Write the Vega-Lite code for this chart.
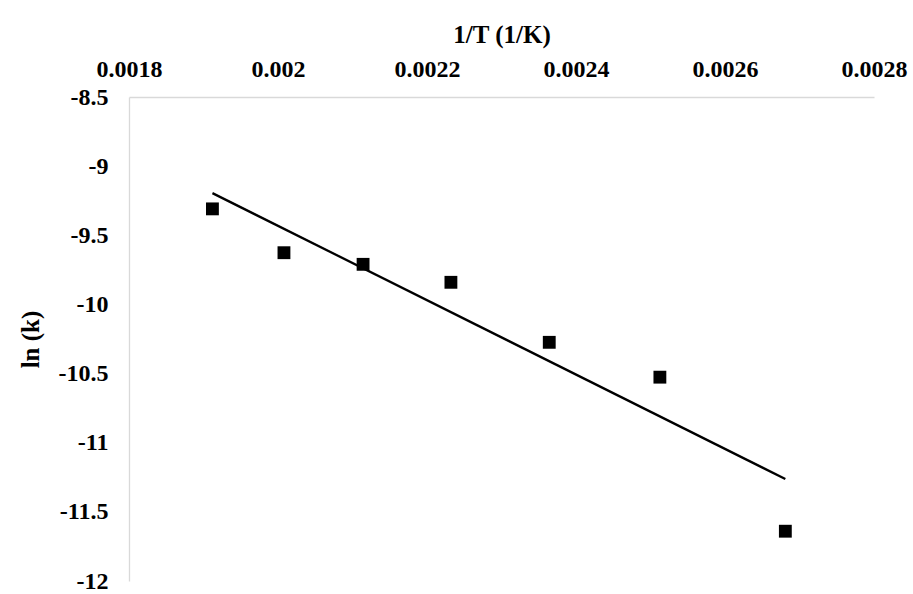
{
  "$schema": "https://vega.github.io/schema/vega-lite/v6.json",
  "width": 745,
  "height": 484,
  "autosize": {"type": "none"},
  "padding": {"left": 129, "top": 97, "right": 39, "bottom": 13},
  "background": "white",
  "config": {
    "view": {"stroke": null},
    "font": "Liberation Serif",
    "axis": {
      "grid": false,
      "ticks": false,
      "tickSize": 0,
      "domainColor": "#d9d9d9",
      "domainWidth": 1.3,
      "labelFont": "Liberation Serif",
      "labelFontWeight": "bold",
      "labelFontSize": 24,
      "labelColor": "black",
      "titleFont": "Liberation Serif",
      "titleFontWeight": "bold",
      "titleFontSize": 25,
      "titleColor": "black"
    }
  },
  "data": {
    "values": [
      {"invT": 0.0019120, "lnk": -9.309},
      {"invT": 0.0020080, "lnk": -9.626},
      {"invT": 0.0021142, "lnk": -9.710},
      {"invT": 0.0022321, "lnk": -9.840},
      {"invT": 0.0023641, "lnk": -10.274},
      {"invT": 0.0025126, "lnk": -10.526},
      {"invT": 0.0026810, "lnk": -11.640}
    ]
  },
  "layer": [
    {
      "transform": [{"regression": "lnk", "on": "invT"}],
      "mark": {"type": "line", "color": "black", "strokeWidth": 2.3},
      "encoding": {
        "x": {"field": "invT", "type": "quantitative"},
        "y": {"field": "lnk", "type": "quantitative"}
      }
    },
    {
      "mark": {"type": "point", "shape": "square", "filled": true, "color": "black", "size": 165, "opacity": 1},
      "encoding": {
        "x": {
          "field": "invT",
          "type": "quantitative",
          "scale": {"domain": [0.0018, 0.0028], "nice": false, "zero": false},
          "axis": {
            "orient": "top",
            "title": "1/T (1/K)",
            "values": [0.0018, 0.002, 0.0022, 0.0024, 0.0026, 0.0028],
            "labelExpr": "'' + datum.value",
            "labelPadding": 16,
            "titlePadding": 10,
            "labelFlush": false
          }
        },
        "y": {
          "field": "lnk",
          "type": "quantitative",
          "scale": {"domain": [-12, -8.5], "nice": false, "zero": false},
          "axis": {
            "title": "ln (k)",
            "values": [-12, -11.5, -11, -10.5, -10, -9.5, -9, -8.5],
            "labelExpr": "'' + datum.value",
            "labelPadding": 21,
            "titlePadding": 15,
            "labelFlush": false
          }
        }
      }
    }
  ]
}
